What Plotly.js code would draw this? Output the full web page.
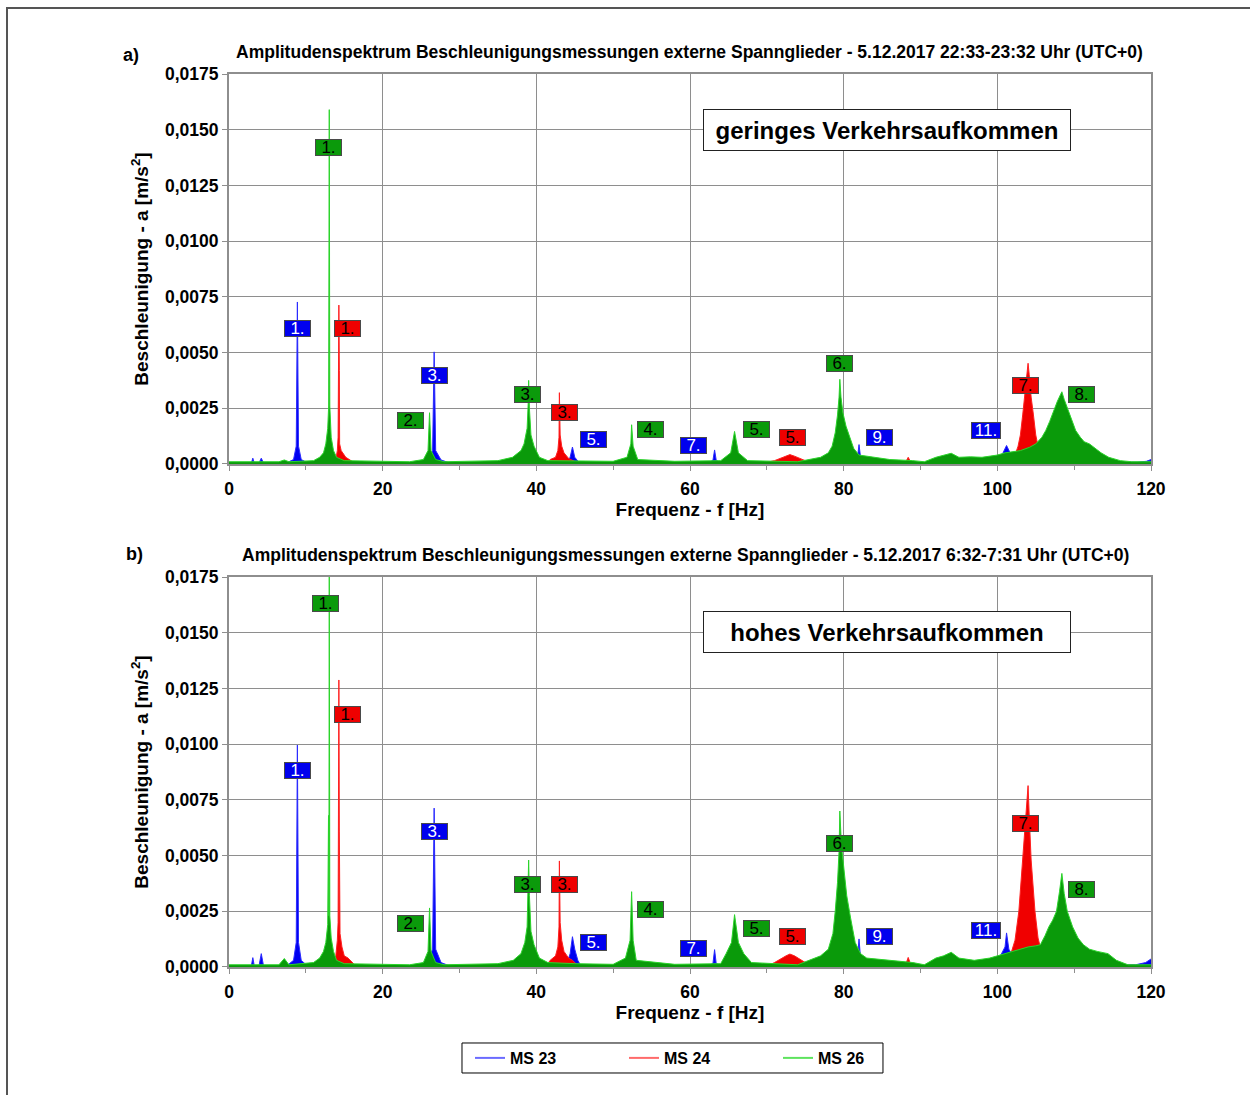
<!DOCTYPE html>
<html>
<head>
<meta charset="utf-8">
<script src="https://cdn.plot.ly/plotly-3.0.1.min.js"></script>
<style>
  html, body { margin: 0; padding: 0; background: #ffffff; }
  #chart { width: 1250px; height: 1095px; position: absolute; left: 0; top: 0; }
  #frame { position: absolute; left: 6px; top: 7px; width: 1260px; height: 1100px;
           border-left: 2px solid #555; border-top: 2px solid #555; pointer-events: none; }
</style>
</head>
<body>
<div id="chart"></div>
<div id="frame"></div>
<script>
// ---------- DATA ----------
// a) 5.12.2017 22:33-23:32 (low traffic)
const fBlueA = [0, 2.9, 3.1, 3.3, 3.9, 4.2, 4.5, 7.5, 8.4, 8.75, 8.9, 9.05, 9.4, 10.2, 10.4, 10.6, 24.0, 25.8, 26.5, 26.7, 26.9, 27.6, 28.7, 43.8, 44.4, 44.7, 45.0, 45.6, 62.6, 63.0, 63.2, 63.4, 63.8, 81.3, 81.8, 82.0, 82.2, 82.7, 99.5, 100.6, 101.2, 101.8, 102.6, 118.2, 119.4, 120];
const aBlueA = [0.00003, 0.00003, 0.00026, 0.00003, 0.00004, 0.00026, 0.00004, 0.00005, 0.0002, 0.0008, 0.00727, 0.0008, 0.0002, 0.00005, 0.00012, 0.00005, 0.00005, 0.00018, 0.0006, 0.00503, 0.0006, 0.00018, 0.00005, 0.00005, 0.0003, 0.00076, 0.0003, 0.00005, 0.00005, 0.0002, 0.00063, 0.0002, 0.00005, 0.00005, 0.0003, 0.00087, 0.0003, 0.00005, 0.00008, 0.0004, 0.00083, 0.0004, 0.00008, 0.00008, 0.00012, 0.0002];

const fRedA = [0, 13.6, 13.9, 14.1, 14.2, 14.3, 14.36, 14.4, 14.6, 15.2, 16.1, 17.9, 41.4, 41.8, 42.5, 42.8, 42.95, 43.0, 43.1, 43.3, 43.6, 44.2, 45.4, 69.5, 71.0, 72.5, 73.0, 73.6, 75.0, 77.0, 88.0, 88.4, 88.8, 101.5, 102.3, 102.7, 103.0, 103.3, 103.6, 103.85, 104.0, 104.15, 104.4, 104.7, 105.0, 105.3, 105.8, 106.5, 120];
const aRedA = [0.00003, 0.00005, 0.0002, 0.0006, 0.0012, 0.00713, 0.0042, 0.0009, 0.0006, 0.0003, 0.0001, 0.00004, 0.00004, 0.0002, 0.0003, 0.0006, 0.0012, 0.0032, 0.0013, 0.0008, 0.0005, 0.00025, 0.00004, 0.00004, 0.00015, 0.00035, 0.00042, 0.00035, 0.00015, 0.00006, 0.00004, 0.0003, 0.00004, 0.0002, 0.0004, 0.0008, 0.0013, 0.0022, 0.0032, 0.004, 0.00452, 0.004, 0.003, 0.0022, 0.0013, 0.0008, 0.0004, 0.0002, 0.00004];

const fGreenA = [0, 6.5, 7.2, 7.8, 11.0, 11.8, 12.3, 12.6, 12.85, 12.97, 13.05, 13.12, 13.3, 13.6, 14.0, 15.0, 23.5, 25.3, 25.9, 26.1, 26.3, 26.9, 28.0, 35.0, 36.9, 38.0, 38.4, 38.8, 38.95, 39.0, 39.1, 39.3, 39.7, 40.4, 41.5, 45.0, 50.0, 51.8, 52.3, 52.4, 52.6, 53.2, 58.0, 64.0, 65.3, 65.8, 66.3, 67.5, 74.0, 77.0, 78.0, 78.5, 78.9, 79.2, 79.4, 79.5, 79.65, 79.9, 80.3, 80.7, 81.3, 82.0, 86.0, 89.0, 90.5, 92.0, 94.0, 95.0, 96.5, 98.0, 99.0, 100.0, 101.0, 102.0, 103.0, 104.2, 105.0, 105.8, 106.3, 106.8, 107.2, 107.8, 108.2, 108.4, 108.7, 109.3, 109.7, 110.2, 110.8, 111.3, 112.0, 112.6, 113.5, 114.5, 116.0, 117.5, 120];
const aGreenA = [0.0001, 0.0001, 0.00018, 0.0001, 0.00015, 0.0003, 0.0005, 0.0009, 0.0016, 0.0026, 0.0159, 0.0026, 0.0012, 0.0006, 0.0003, 0.00015, 0.0001, 0.0002, 0.0006, 0.0023, 0.0006, 0.0002, 0.0001, 0.00015, 0.0003, 0.0006, 0.0009, 0.0016, 0.0028, 0.00375, 0.0025, 0.0013, 0.0008, 0.0003, 0.00015, 0.00015, 0.00012, 0.0003, 0.0009, 0.00176, 0.0008, 0.0002, 0.00012, 0.00015, 0.0005, 0.00146, 0.0005, 0.00015, 0.0001, 0.0003, 0.0005, 0.0008, 0.0014, 0.0022, 0.003, 0.0038, 0.003, 0.0023, 0.0017, 0.0013, 0.0007, 0.0004, 0.0002, 0.00015, 0.0001, 0.0003, 0.00048, 0.0003, 0.00032, 0.0003, 0.00035, 0.0004, 0.0005, 0.00055, 0.0006, 0.00075, 0.0009, 0.0012, 0.0015, 0.0019, 0.0023, 0.0028, 0.0031, 0.00324, 0.0029, 0.0023, 0.0019, 0.0015, 0.0012, 0.001, 0.0009, 0.00075, 0.0005, 0.0003, 0.00015, 0.0001, 0.0001];

// b) 5.12.2017 6:32-7:31 (high traffic)
const fBlueB = [0, 2.9, 3.1, 3.3, 3.9, 4.2, 4.5, 7.5, 8.4, 8.75, 8.9, 9.05, 9.4, 10.2, 10.4, 10.6, 24.0, 25.8, 26.5, 26.7, 26.9, 27.6, 28.7, 43.6, 44.0, 44.4, 44.7, 45.0, 45.4, 45.8, 62.6, 63.0, 63.2, 63.4, 63.8, 81.3, 81.8, 82.0, 82.2, 82.7, 99.8, 100.5, 101.0, 101.2, 101.5, 102.0, 102.6, 118.0, 119.3, 120];
const aBlueB = [0.00003, 0.00003, 0.00042, 0.00003, 0.00004, 0.0006, 0.00004, 0.00005, 0.0003, 0.0011, 0.00996, 0.0011, 0.0003, 0.00005, 0.00015, 0.00005, 0.00005, 0.0002, 0.0008, 0.00713, 0.0008, 0.0002, 0.00005, 0.00005, 0.0002, 0.0006, 0.00136, 0.0008, 0.0003, 0.00005, 0.00005, 0.0002, 0.00078, 0.0002, 0.00005, 0.00005, 0.0004, 0.00126, 0.0004, 0.00005, 0.0001, 0.0006, 0.0009, 0.00153, 0.0008, 0.0005, 0.0001, 0.0001, 0.0002, 0.00036];

const fRedB = [0, 13.5, 13.9, 14.1, 14.2, 14.3, 14.36, 14.45, 14.7, 15.0, 15.5, 16.5, 41.4, 41.8, 42.5, 42.8, 42.95, 43.0, 43.1, 43.3, 43.6, 44.2, 44.7, 45.3, 70.0, 71.0, 72.5, 73.0, 73.6, 75.0, 76.7, 88.0, 88.4, 88.8, 101.5, 102.3, 102.8, 103.3, 103.6, 103.9, 104.0, 104.15, 104.4, 104.9, 105.3, 105.8, 106.5, 120];
const aRedB = [0.00003, 0.00004, 0.0005, 0.0012, 0.002, 0.01288, 0.0061, 0.0015, 0.0009, 0.0005, 0.0004, 0.00005, 0.0001, 0.0003, 0.0005, 0.0009, 0.0018, 0.00476, 0.002, 0.0012, 0.0007, 0.0004, 0.0003, 0.0001, 0.00004, 0.0002, 0.0005, 0.00058, 0.0005, 0.0002, 0.00006, 0.00004, 0.00043, 0.00004, 0.0003, 0.0012, 0.0025, 0.0048, 0.0063, 0.0075, 0.00814, 0.0068, 0.0048, 0.0025, 0.0013, 0.0006, 0.0002, 0.00004];

const fGreenB = [0, 6.5, 7.2, 7.8, 11.0, 11.8, 12.3, 12.6, 12.85, 12.95, 13.0, 13.05, 13.12, 13.3, 13.6, 14.0, 15.0, 23.5, 25.3, 25.9, 26.1, 26.3, 26.9, 28.0, 35.0, 37.0, 38.0, 38.5, 38.8, 38.95, 39.0, 39.1, 39.3, 39.7, 40.4, 41.5, 45.0, 50.0, 51.6, 52.2, 52.4, 52.6, 53.0, 58.0, 64.0, 64.7, 65.4, 65.8, 66.3, 67.0, 68.0, 74.0, 77.0, 78.0, 78.6, 78.9, 79.2, 79.4, 79.5, 79.7, 80.0, 80.4, 80.9, 81.5, 82.2, 83.0, 86.0, 89.0, 90.5, 92.0, 93.0, 94.0, 95.0, 96.0, 97.0, 98.0, 99.0, 100.0, 101.0, 102.0, 103.0, 104.0, 105.0, 105.6, 106.2, 106.7, 107.2, 107.7, 108.1, 108.4, 108.7, 109.1, 109.5, 109.8, 110.5, 111.2, 112.0, 113.0, 114.4, 115.5, 117.0, 120];
const aGreenB = [0.0001, 0.0001, 0.00038, 0.0001, 0.0002, 0.0004, 0.0007, 0.0011, 0.0019, 0.0068, 0.0023, 0.0176, 0.0023, 0.0013, 0.0007, 0.0003, 0.00015, 0.0001, 0.0002, 0.0007, 0.00265, 0.0007, 0.0002, 0.0001, 0.00015, 0.0003, 0.0006, 0.0011, 0.0018, 0.0035, 0.0048, 0.0032, 0.0016, 0.001, 0.0004, 0.0002, 0.00015, 0.00012, 0.0004, 0.0012, 0.00338, 0.0012, 0.0003, 0.00012, 0.00015, 0.0006, 0.0011, 0.00235, 0.0011, 0.0006, 0.0002, 0.0001, 0.0005, 0.0008, 0.0015, 0.0025, 0.0038, 0.0052, 0.007, 0.0055, 0.0045, 0.0032, 0.0022, 0.0011, 0.0006, 0.0004, 0.0003, 0.0002, 0.0001, 0.0004, 0.0005, 0.00066, 0.0004, 0.00035, 0.0003, 0.00035, 0.0004, 0.0005, 0.0006, 0.0007, 0.0008, 0.0009, 0.00095, 0.001, 0.0014, 0.0018, 0.0021, 0.0025, 0.0034, 0.0042, 0.0033, 0.0025, 0.0021, 0.0018, 0.0013, 0.001, 0.0008, 0.0007, 0.0006, 0.0003, 0.0001, 0.0001];

// Peak labels
const labelTextA = ['1.', '1.', '1.', '2.', '3.', '3.', '3.', '5.', '4.', '7.', '5.', '5.', '6.', '9.', '11.', '7.', '8.'];
const labelSeriesA = ['MS 26', 'MS 23', 'MS 24', 'MS 26', 'MS 23', 'MS 26', 'MS 24', 'MS 23', 'MS 26', 'MS 23', 'MS 26', 'MS 24', 'MS 26', 'MS 23', 'MS 23', 'MS 24', 'MS 26'];
const labelFreqA = [13.0, 8.85, 15.36, 23.56, 26.7, 38.9, 43.7, 47.5, 54.9, 60.4, 68.6, 73.3, 79.4, 84.6, 98.5, 103.7, 110.9];
const labelAmpA = [0.01422, 0.00606, 0.00606, 0.00193, 0.00395, 0.00314, 0.00233, 0.00108, 0.00153, 0.00081, 0.00153, 0.00121, 0.00449, 0.00117, 0.00148, 0.00354, 0.0031];

const labelTextB = ['1.', '1.', '1.', '2.', '3.', '3.', '3.', '5.', '4.', '7.', '5.', '5.', '6.', '9.', '11.', '7.', '8.'];
const labelSeriesB = ['MS 26', 'MS 23', 'MS 24', 'MS 26', 'MS 23', 'MS 26', 'MS 24', 'MS 23', 'MS 26', 'MS 23', 'MS 26', 'MS 24', 'MS 26', 'MS 23', 'MS 23', 'MS 24', 'MS 26'];
const labelFreqB = [12.6, 8.85, 15.36, 23.56, 26.7, 38.9, 43.7, 47.5, 54.9, 60.4, 68.6, 73.3, 79.4, 84.6, 98.5, 103.7, 110.9];
const labelAmpB = [0.01629, 0.00884, 0.01131, 0.00197, 0.00606, 0.00368, 0.00368, 0.00112, 0.00256, 0.00085, 0.00175, 0.00135, 0.00556, 0.00135, 0.00166, 0.00646, 0.00346];

const seriesNames = ['MS 23', 'MS 24', 'MS 26'];
const xTicks = [0, 20, 40, 60, 80, 100, 120];

const titleA = 'Amplitudenspektrum Beschleunigungsmessungen externe Spannglieder - 5.12.2017 22:33-23:32 Uhr (UTC+0)';
const titleB = 'Amplitudenspektrum Beschleunigungsmessungen externe Spannglieder - 5.12.2017 6:32-7:31 Uhr (UTC+0)';
const noteA = 'geringes Verkehrsaufkommen';
const noteB = 'hohes Verkehrsaufkommen';

// ---------- STYLE ----------
const FONT = 'Liberation Sans, Arial, sans-serif';
const lineCol = {'MS 23': '#2a2aff', 'MS 24': '#ff2020', 'MS 26': '#2bd42b'};
const fillCol = {'MS 23': '#0000f0', 'MS 24': '#f00000', 'MS 26': '#0a9a0a'};
const legCol = {'MS 23': '#6b6bff', 'MS 24': '#ff6b6b', 'MS 26': '#5ee35e'};
const boxCol = {'MS 23': '#0000ee', 'MS 24': '#ee0000', 'MS 26': '#0b9a0b'};
const boxTxt = {'MS 23': '#ffffff', 'MS 24': '#000000', 'MS 26': '#000000'};

function spec(f, a, name, xa, ya) {
  return {x: f, y: a, type: 'scatter', mode: 'lines', name: name, showlegend: false,
          xaxis: xa, yaxis: ya, fill: 'tozeroy', fillcolor: fillCol[name],
          line: {color: lineCol[name], width: 1}, hoverinfo: 'x+y'};
}
const traces = [
  spec(fBlueA, aBlueA, 'MS 23', 'x', 'y'),
  spec(fRedA, aRedA, 'MS 24', 'x', 'y'),
  spec(fGreenA, aGreenA, 'MS 26', 'x', 'y'),
  spec(fBlueB, aBlueB, 'MS 23', 'x2', 'y2'),
  spec(fRedB, aRedB, 'MS 24', 'x2', 'y2'),
  spec(fGreenB, aGreenB, 'MS 26', 'x2', 'y2')
];
seriesNames.forEach(n => traces.push({x: [null], y: [null], type: 'scatter', mode: 'lines',
  name: n, showlegend: true, xaxis: 'x2', yaxis: 'y2', line: {color: legCol[n], width: 2}}));

const annotations = [];
function addLabels(txt, ser, fr, am, xr, yr) {
  for (let i = 0; i < txt.length; i++) {
    annotations.push({x: fr[i], y: am[i], xref: xr, yref: yr, text: txt[i], showarrow: false,
      xanchor: 'center', yanchor: 'middle',
      bgcolor: boxCol[ser[i]], bordercolor: '#4a4a4a', borderwidth: 1, borderpad: 0,
      width: txt[i].length > 2 ? 28 : 25, height: 15,
      font: {family: FONT, size: 17, color: boxTxt[ser[i]]}});
  }
}
addLabels(labelTextA, labelSeriesA, labelFreqA, labelAmpA, 'x', 'y');
addLabels(labelTextB, labelSeriesB, labelFreqB, labelAmpB, 'x2', 'y2');

const titleFont = {family: FONT, size: 17.5, color: '#000', weight: 'bold'};
function paperNote(x, y, text, font, extra) {
  return Object.assign({xref: 'paper', yref: 'paper', x: x, y: y, text: text, showarrow: false,
    xanchor: 'center', yanchor: 'middle', font: font}, extra || {});
}
annotations.push(paperNote(0.499, 1.0246, titleA, titleFont));
annotations.push(paperNote(0.4946, 0.4614, titleB, titleFont));
const abFont = {family: FONT, size: 18, color: '#000', weight: 'bold'};
annotations.push(paperNote(-0.1063, 1.0213, 'a)', abFont));
annotations.push(paperNote(-0.1020, 0.4625, 'b)', abFont));
const noteFont = {family: FONT, size: 24, color: '#000', weight: 'bold'};
const noteBox = {bgcolor: '#fff', bordercolor: '#222', borderwidth: 1, borderpad: 2, width: 362, height: 36};
annotations.push(paperNote(0.7137, 0.9373, noteA, noteFont, noteBox));
annotations.push(paperNote(0.7137, 0.3751, noteB, noteFont, noteBox));

const tickFont = {family: FONT, size: 17.5, color: '#000', weight: 'bold'};
const axTitleFont = {family: FONT, size: 19, color: '#000', weight: 'bold'};
function xAxis(anchor) {
  return {anchor: anchor, domain: [0, 1], range: [0, 120], tickvals: xTicks, ticktext: xTicks.map(String),
    showgrid: true, gridcolor: '#8e8e8e', gridwidth: 1, zeroline: false,
    showline: true, linecolor: '#8e8e8e', linewidth: 2, mirror: true,
    ticks: 'outside', ticklen: 5, tickcolor: '#8e8e8e', tickfont: tickFont, ticklabelstandoff: 3,
    minor: {dtick: 10, tick0: 0, ticks: 'outside', ticklen: 4, tickcolor: '#8e8e8e', showgrid: false},
    title: {text: 'Frequenz - f [Hz]', font: axTitleFont, standoff: 4}};
}
function yAxis(anchor, dom) {
  return {anchor: anchor, domain: dom, range: [0, 0.0175], dtick: 0.0025, tick0: 0, tickformat: '.4f',
    showgrid: true, gridcolor: '#8e8e8e', gridwidth: 1, zeroline: false,
    showline: true, linecolor: '#8e8e8e', linewidth: 2, mirror: true,
    ticks: 'outside', ticklen: 5, tickcolor: '#8e8e8e', tickfont: tickFont,
    title: {text: 'Beschleunigung - a [m/s<sup>2</sup>]', font: axTitleFont, standoff: 11}};
}

const layout = {
  width: 1250, height: 1095,
  margin: {l: 229, r: 99, t: 74, b: 128},
  paper_bgcolor: '#fff', plot_bgcolor: '#fff',
  separators: ',.',
  font: {family: FONT, color: '#000'},
  xaxis: xAxis('y'),
  yaxis: yAxis('x', [0.5633, 1]),
  xaxis2: xAxis('y2'),
  yaxis2: yAxis('x2', [0, 0.4367]),
  showlegend: true,
  legend: {orientation: 'h', x: 0.2614, xanchor: 'left', y: -0.1019, yanchor: 'middle',
    borderwidth: 0, bgcolor: 'rgba(0,0,0,0)', entrywidth: 109, entrywidthmode: 'pixels',
    font: {family: FONT, size: 16, color: '#000', weight: 'bold'}},
  shapes: [{type: 'rect', xref: 'paper', yref: 'paper', x0: 0.2527, x1: 0.7093, y0: -0.1187, y1: -0.0851,
    line: {color: '#000', width: 1}, fillcolor: 'rgba(0,0,0,0)'}],
  annotations: annotations
};

Plotly.newPlot('chart', traces, layout, {displayModeBar: false, staticPlot: true});
</script>
</body>
</html>
